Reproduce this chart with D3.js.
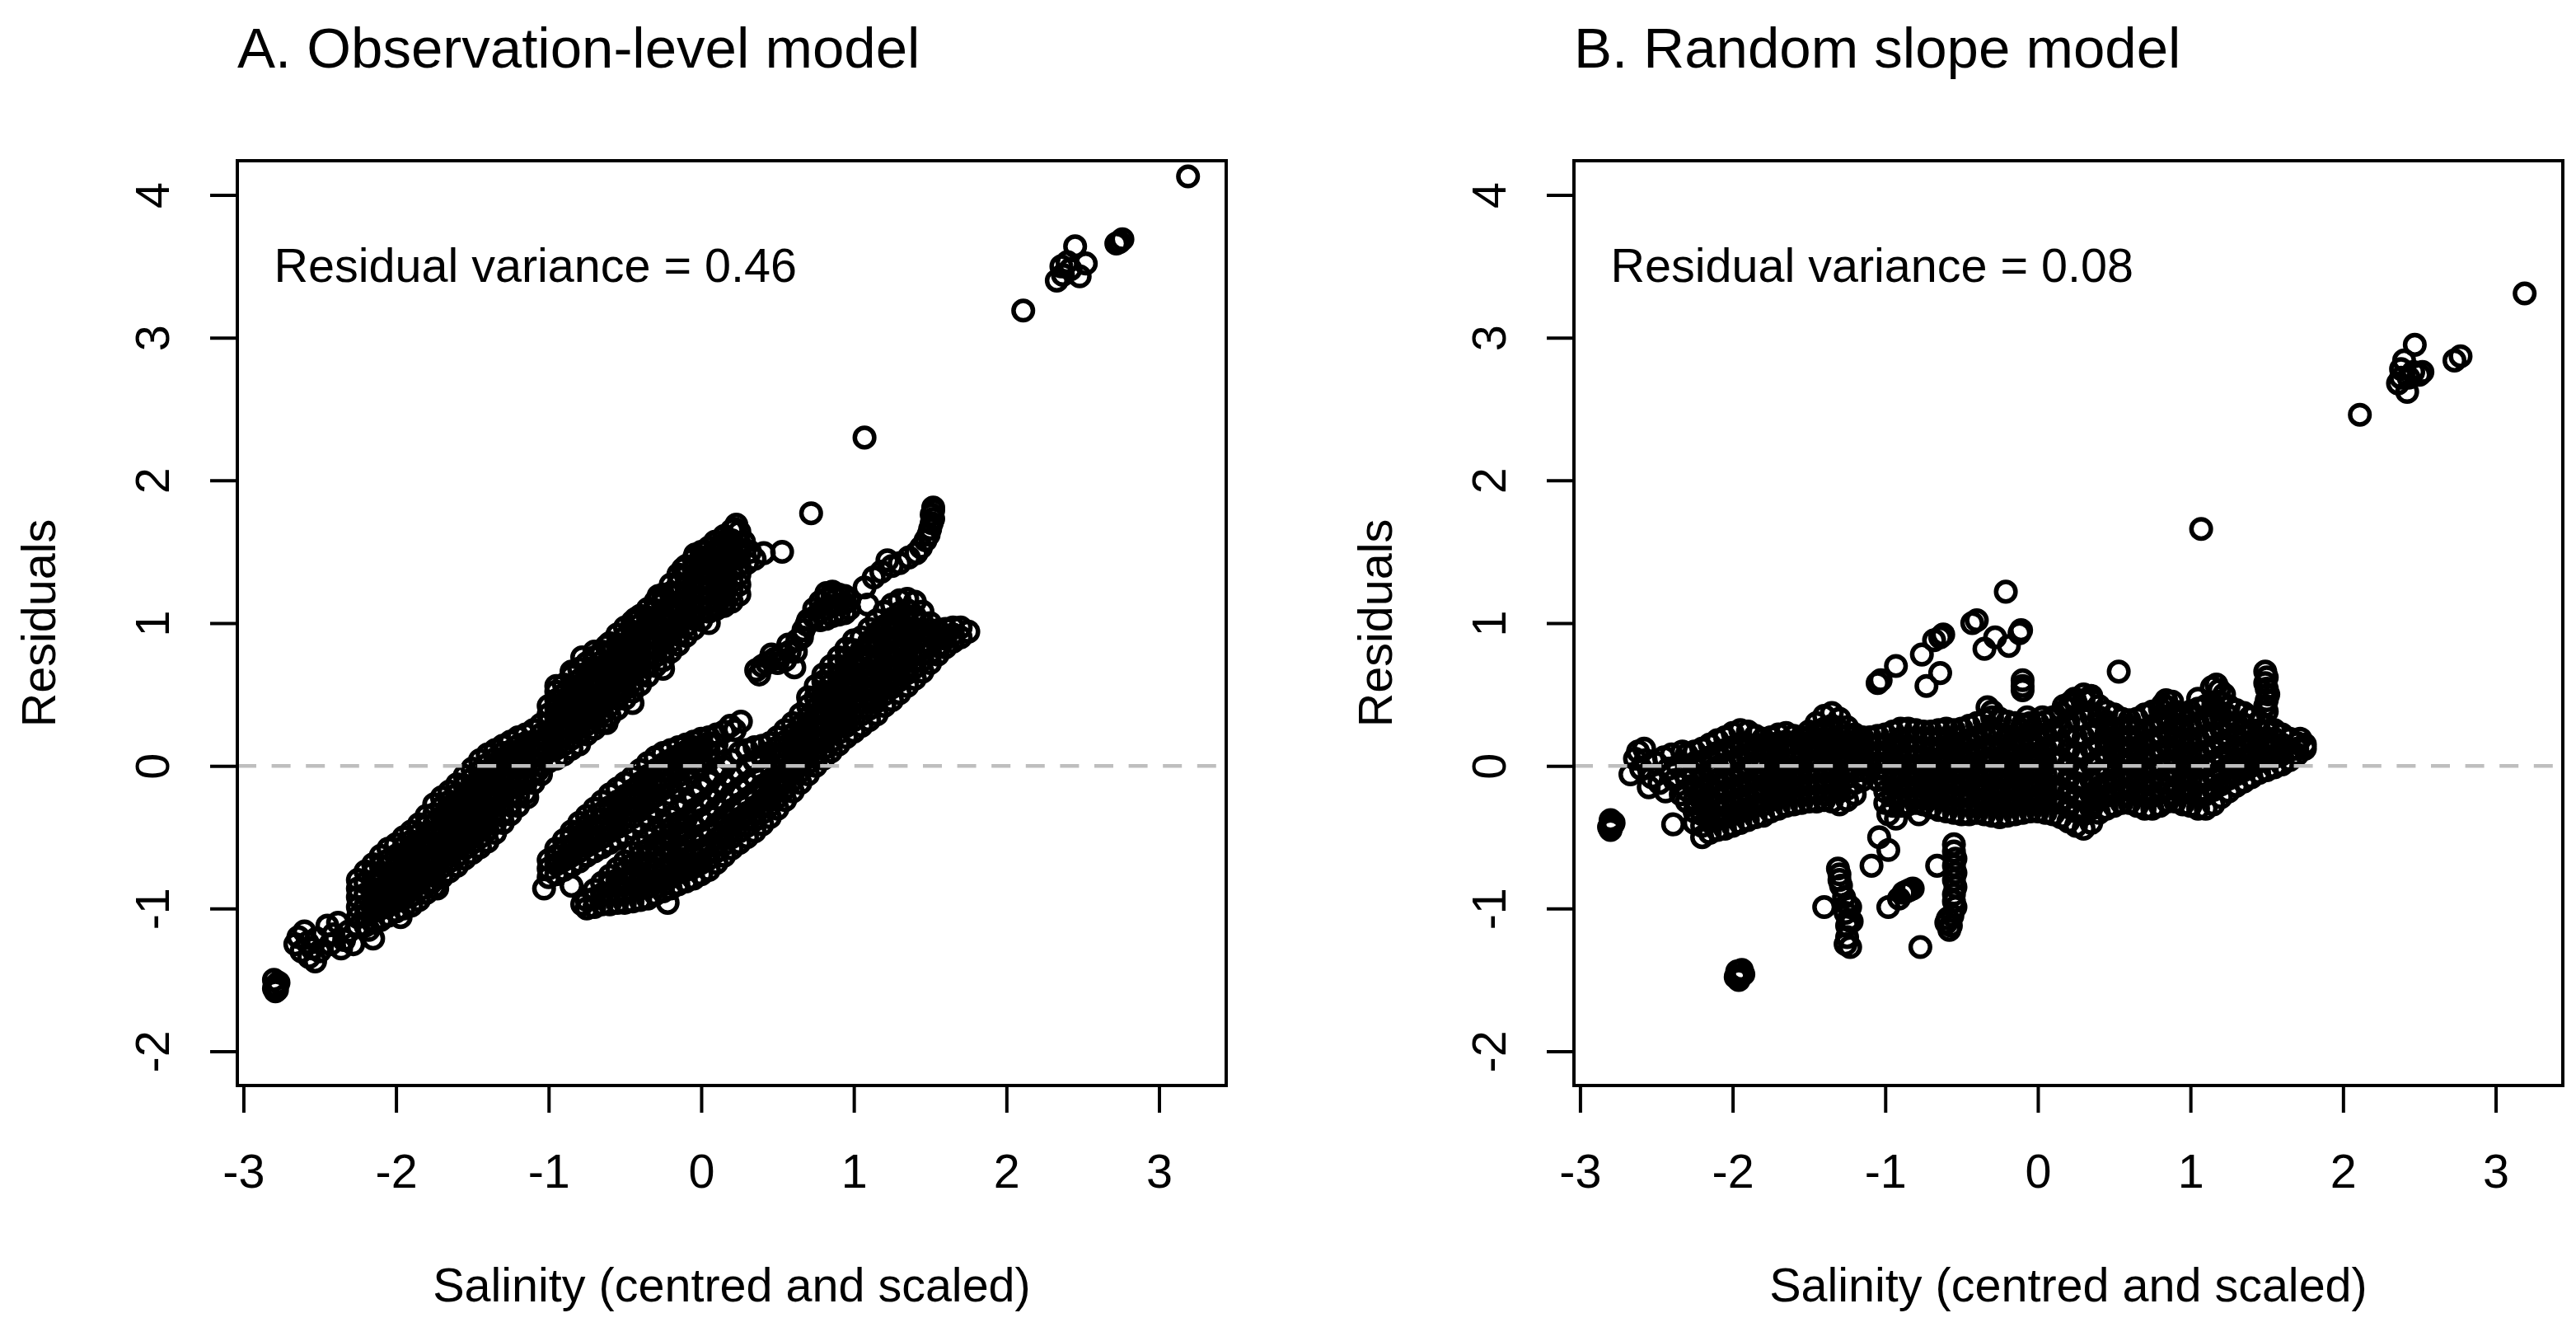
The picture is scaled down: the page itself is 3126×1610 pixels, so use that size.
<!DOCTYPE html>
<html>
<head>
<meta charset="utf-8">
<script src="https://cdn.jsdelivr.net/npm/d3@7"></script>
<style>
  body { margin: 0; background: #fff; }
  text { font-family: "Liberation Sans", Arial, sans-serif; fill: #000; }
</style>
</head>
<body>
<svg id="chart"></svg>
<script>
var W = 3126, H = 1610;

var xTicks = [-3, -2, -1, 0, 1, 2, 3];
var yTicks = [-2, -1, 0, 1, 2, 3, 4];
var xLim = [-2.8, 3.2];
var yLim = [-2, 4];

// dense parts are stored as columns: [x, y, y, y, ...]
// A. observation-level model, upper-left stripe
var obsBand1 = [
  [-2.25,-1.13,-1.06,-0.99,-0.92,-0.86,-0.80],
  [-2.20,-1.12,-1.05,-0.98,-0.90,-0.82,-0.74],
  [-2.15,-1.10,-1.02,-0.95,-0.88,-0.81,-0.75,-0.69],
  [-2.10,-1.08,-1.00,-0.93,-0.86,-0.78,-0.70,-0.63],
  [-2.05,-1.05,-0.98,-0.90,-0.83,-0.75,-0.66,-0.58],
  [-2.00,-1.02,-0.95,-0.88,-0.80,-0.72,-0.63,-0.55],
  [-1.95,-1.00,-0.93,-0.85,-0.78,-0.71,-0.64,-0.57,-0.50],
  [-1.90,-0.98,-0.91,-0.83,-0.76,-0.68,-0.61,-0.53,-0.46],
  [-1.85,-0.94,-0.87,-0.79,-0.72,-0.64,-0.56,-0.48,-0.41],
  [-1.80,-0.89,-0.82,-0.74,-0.66,-0.58,-0.50,-0.42,-0.35],
  [-1.75,-0.85,-0.77,-0.69,-0.62,-0.55,-0.48,-0.41,-0.34,-0.27],
  [-1.70,-0.78,-0.71,-0.64,-0.57,-0.50,-0.43,-0.36,-0.29,-0.22],
  [-1.65,-0.74,-0.67,-0.60,-0.53,-0.46,-0.39,-0.32,-0.25,-0.18],
  [-1.60,-0.70,-0.63,-0.56,-0.49,-0.41,-0.34,-0.27,-0.20,-0.13],
  [-1.55,-0.65,-0.58,-0.51,-0.44,-0.36,-0.29,-0.21,-0.14,-0.07],
  [-1.50,-0.61,-0.54,-0.46,-0.39,-0.32,-0.24,-0.17,-0.09,-0.02],
  [-1.45,-0.57,-0.50,-0.42,-0.35,-0.27,-0.19,-0.11,-0.04,0.04],
  [-1.40,-0.53,-0.45,-0.38,-0.30,-0.22,-0.14,-0.07,0.01,0.08],
  [-1.35,-0.47,-0.40,-0.32,-0.25,-0.17,-0.10,-0.02,0.05,0.11],
  [-1.30,-0.40,-0.33,-0.26,-0.18,-0.11,-0.04,0.03,0.09,0.14],
  [-1.25,-0.34,-0.27,-0.20,-0.12,-0.05,0.03,0.10,0.17],
  [-1.20,-0.28,-0.21,-0.14,-0.07,0.00,0.07,0.14,0.20],
  [-1.15,-0.19,-0.12,-0.05,0.02,0.09,0.16,0.22],
  [-1.10,-0.12,-0.05,0.03,0.10,0.17,0.25],
  [-1.05,-0.06,0.01,0.08,0.15,0.22,0.29],
  [-1.00,0.03,0.10,0.17,0.24,0.30,0.36,0.42],
  [-0.95,0.05,0.12,0.19,0.26,0.33,0.40,0.46,0.52],
  [-0.90,0.08,0.15,0.22,0.29,0.36,0.43,0.50,0.57],
  [-0.85,0.12,0.19,0.26,0.34,0.41,0.48,0.56,0.63],
  [-0.80,0.15,0.23,0.30,0.38,0.45,0.53,0.60,0.68],
  [-0.75,0.22,0.29,0.36,0.43,0.50,0.58,0.65,0.72],
  [-0.70,0.26,0.33,0.40,0.47,0.54,0.62,0.69,0.76],
  [-0.65,0.30,0.37,0.44,0.51,0.58,0.66,0.73,0.80],
  [-0.60,0.35,0.42,0.49,0.57,0.64,0.71,0.79,0.86],
  [-0.55,0.40,0.47,0.55,0.62,0.70,0.77,0.85,0.92],
  [-0.50,0.47,0.54,0.61,0.68,0.75,0.83,0.90,0.97],
  [-0.45,0.52,0.59,0.66,0.73,0.80,0.87,0.94,1.01],
  [-0.40,0.57,0.64,0.71,0.78,0.85,0.92,0.99,1.05],
  [-0.35,0.63,0.70,0.77,0.84,0.90,0.97,1.04,1.10],
  [-0.30,0.70,0.77,0.84,0.90,0.96,1.03,1.09,1.15],
  [-0.25,0.74,0.81,0.88,0.95,1.02,1.08,1.14,1.20],
  [-0.20,0.80,0.87,0.94,1.01,1.07,1.14,1.21,1.27],
  [-0.15,0.85,0.92,0.99,1.06,1.13,1.20,1.27,1.34],
  [-0.10,0.91,0.98,1.05,1.12,1.19,1.26,1.33,1.40],
  [-0.05,0.96,1.03,1.10,1.17,1.24,1.31,1.38,1.45],
  [0.00,1.02,1.09,1.16,1.23,1.30,1.37,1.44,1.50],
  [0.05,1.08,1.15,1.22,1.29,1.35,1.41,1.47,1.53],
  [0.10,1.10,1.17,1.24,1.31,1.38,1.44,1.51,1.57],
  [0.15,1.12,1.19,1.26,1.33,1.40,1.47,1.54,1.61],
  [0.20,1.15,1.22,1.29,1.37,1.44,1.51,1.58,1.65],
  [0.25,1.20,1.27,1.34,1.41,1.48,1.56,1.64]
];

// A. short middle stripe
var obsBand2 = [
  [-1.00,-0.78,-0.72,-0.66],
  [-0.95,-0.76,-0.69,-0.63,-0.58],
  [-0.90,-0.73,-0.66,-0.59,-0.52],
  [-0.85,-0.70,-0.63,-0.56,-0.50,-0.46],
  [-0.80,-0.67,-0.60,-0.53,-0.46,-0.40],
  [-0.75,-0.63,-0.56,-0.49,-0.42,-0.35],
  [-0.70,-0.60,-0.53,-0.45,-0.37,-0.30],
  [-0.65,-0.57,-0.50,-0.42,-0.33,-0.25],
  [-0.60,-0.54,-0.46,-0.38,-0.29,-0.20],
  [-0.55,-0.51,-0.43,-0.34,-0.25,-0.16],
  [-0.50,-0.48,-0.40,-0.31,-0.21,-0.12],
  [-0.45,-0.44,-0.36,-0.26,-0.17,-0.08],
  [-0.40,-0.40,-0.31,-0.22,-0.12,-0.03],
  [-0.35,-0.35,-0.26,-0.17,-0.07,0.02],
  [-0.30,-0.30,-0.21,-0.12,-0.03,0.06],
  [-0.25,-0.25,-0.16,-0.08,0.01,0.09],
  [-0.20,-0.20,-0.12,-0.04,0.04,0.11],
  [-0.15,-0.15,-0.07,0.00,0.07,0.13],
  [-0.10,-0.10,-0.03,0.04,0.10,0.15],
  [-0.05,-0.05,0.02,0.08,0.13,0.17],
  [0.00,0.00,0.06,0.12,0.19],
  [0.05,0.04,0.10,0.16,0.20],
  [0.10,0.09,0.15,0.22]
];

// A. large lower stripe
var obsBand3 = [
  [-0.75,-1.00,-0.94],
  [-0.70,-0.99,-0.93,-0.87],
  [-0.65,-0.97,-0.90,-0.82],
  [-0.60,-0.97,-0.90,-0.83,-0.77],
  [-0.55,-0.96,-0.88,-0.80,-0.72],
  [-0.50,-0.96,-0.88,-0.81,-0.74,-0.67],
  [-0.45,-0.95,-0.87,-0.78,-0.69,-0.61],
  [-0.40,-0.94,-0.86,-0.78,-0.70,-0.63,-0.56],
  [-0.35,-0.93,-0.85,-0.76,-0.68,-0.59,-0.51],
  [-0.30,-0.90,-0.82,-0.73,-0.64,-0.55,-0.46],
  [-0.25,-0.88,-0.80,-0.72,-0.64,-0.56,-0.48,-0.41],
  [-0.20,-0.86,-0.78,-0.70,-0.61,-0.52,-0.44,-0.36],
  [-0.15,-0.83,-0.75,-0.67,-0.58,-0.49,-0.40,-0.31],
  [-0.10,-0.81,-0.73,-0.65,-0.56,-0.47,-0.37,-0.26],
  [-0.05,-0.79,-0.71,-0.62,-0.52,-0.42,-0.31,-0.21],
  [0.00,-0.76,-0.68,-0.59,-0.49,-0.38,-0.27,-0.16],
  [0.05,-0.73,-0.65,-0.56,-0.46,-0.35,-0.23,-0.11],
  [0.10,-0.68,-0.60,-0.51,-0.41,-0.30,-0.18,-0.06],
  [0.15,-0.63,-0.55,-0.46,-0.36,-0.25,-0.13,-0.01],
  [0.20,-0.58,-0.50,-0.41,-0.31,-0.20,-0.08,0.04],
  [0.25,-0.54,-0.46,-0.37,-0.27,-0.16,-0.04,0.09],
  [0.30,-0.50,-0.42,-0.33,-0.23,-0.12,0.00,0.11],
  [0.35,-0.46,-0.38,-0.29,-0.19,-0.08,0.03,0.13],
  [0.40,-0.41,-0.33,-0.24,-0.14,-0.04,0.06,0.14],
  [0.45,-0.36,-0.28,-0.19,-0.10,0.00,0.09,0.16],
  [0.50,-0.30,-0.22,-0.13,-0.04,0.05,0.13,0.20],
  [0.55,-0.24,-0.16,-0.08,0.01,0.09,0.17,0.25],
  [0.60,-0.18,-0.10,-0.02,0.06,0.14,0.22,0.30],
  [0.65,-0.12,-0.04,0.04,0.12,0.20,0.28,0.36],
  [0.70,-0.06,0.02,0.10,0.18,0.26,0.34,0.42,0.48],
  [0.75,0.00,0.08,0.16,0.24,0.32,0.40,0.48,0.56],
  [0.80,0.05,0.12,0.20,0.28,0.36,0.44,0.52,0.59,0.64],
  [0.85,0.10,0.17,0.25,0.33,0.41,0.49,0.57,0.64,0.70],
  [0.90,0.15,0.23,0.31,0.39,0.47,0.55,0.63,0.70,0.76],
  [0.95,0.20,0.28,0.36,0.44,0.52,0.60,0.68,0.75,0.82],
  [1.00,0.24,0.32,0.40,0.48,0.57,0.65,0.73,0.81,0.88],
  [1.05,0.28,0.36,0.45,0.54,0.63,0.72,0.81,0.90],
  [1.10,0.32,0.40,0.49,0.58,0.67,0.77,0.87,0.96],
  [1.15,0.36,0.45,0.54,0.63,0.73,0.83,0.93,1.02],
  [1.20,0.42,0.50,0.59,0.68,0.78,0.88,0.98,1.08],
  [1.25,0.46,0.55,0.64,0.73,0.83,0.93,1.03,1.13],
  [1.30,0.51,0.60,0.69,0.78,0.88,0.98,1.07,1.16],
  [1.35,0.56,0.65,0.74,0.83,0.92,1.01,1.09,1.17],
  [1.40,0.61,0.69,0.78,0.87,0.96,1.05,1.15],
  [1.45,0.66,0.74,0.82,0.91,1.00,1.08],
  [1.50,0.72,0.79,0.86,0.93,1.00],
  [1.55,0.78,0.84,0.90,0.95],
  [1.60,0.83,0.89,0.96],
  [1.65,0.87,0.92,0.97],
  [1.70,0.90,0.97],
  [1.75,0.94]
];

// A. small dense blob on the upper short stripe
var obsBand4 = [
  [0.74,1.04,1.10],
  [0.78,1.02,1.08,1.15],
  [0.82,1.03,1.10,1.17,1.21],
  [0.86,1.05,1.12,1.19,1.22],
  [0.90,1.06,1.13,1.20],
  [0.94,1.07,1.14,1.19],
  [0.97,1.10,1.16]
];

// A. loose points and outliers
var obsPoints = [
  [-2.80,-1.50],[-2.79,-1.54],[-2.78,-1.57],[-2.80,-1.56],[-2.77,-1.52],[-2.79,-1.58],
  [-2.66,-1.25],[-2.64,-1.20],[-2.62,-1.30],[-2.60,-1.16],[-2.58,-1.24],[-2.57,-1.34],
  [-2.55,-1.28],[-2.53,-1.37],[-2.52,-1.21],[-2.50,-1.30],[-2.45,-1.12],[-2.43,-1.25],
  [-2.41,-1.18],[-2.38,-1.10],[-2.36,-1.28],[-2.34,-1.22],[-2.31,-1.16],[-2.28,-1.25],
  [-2.18,-1.15],[-2.15,-1.21],[-2.00,-1.02],[-1.97,-1.06],[-1.77,-0.82],[-1.73,-0.86],
  [-1.14,-0.22],[-1.07,-0.03],[-0.95,0.56],[-0.85,0.66],[-0.78,0.76],[-0.70,0.80],
  [-0.62,0.84],[-0.62,0.30],[-0.45,0.44],[-0.43,1.03],[-0.40,1.05],[-0.28,1.19],
  [-0.25,1.17],[-0.25,0.68],[-0.12,1.38],[-0.04,1.48],[0.03,1.50],[0.05,1.00],
  [0.09,1.57],[0.12,1.54],[0.15,1.15],[0.22,1.66],[0.23,1.69],[0.28,1.57],
  [0.30,1.42],[0.32,1.50],[0.35,1.45],[0.41,1.49],[0.53,1.50],
  [-1.03,-0.86],[-0.85,-0.84],[0.10,0.21],[0.15,0.24],[0.19,0.28],[0.22,0.25],[0.26,0.31],
  [-0.78,-0.97],[-0.22,-0.96],
  [0.36,0.67],[0.38,0.64],[0.40,0.70],[0.43,0.72],[0.46,0.78],[0.48,0.75],[0.50,0.72],
  [0.53,0.78],[0.55,0.74],[0.57,0.85],[0.58,0.80],[0.61,0.69],[0.62,0.80],[0.63,0.88],
  [0.66,0.90],[0.67,0.95],[0.69,0.99],[0.70,1.02],
  [1.07,1.25],[1.09,1.13],[1.13,1.32],[1.18,1.36],[1.22,1.44],[1.25,1.40],[1.30,1.42],
  [1.36,1.46],[1.41,1.49],[1.44,1.53],[1.47,1.58],[1.49,1.62],[1.50,1.66],[1.51,1.70],
  [1.52,1.73],[1.51,1.76],[1.52,1.79],[1.52,1.81],
  [0.72,1.77],[1.07,2.30],[2.11,3.19],[2.33,3.40],[2.36,3.50],[2.37,3.44],[2.40,3.53],
  [2.42,3.48],[2.45,3.64],[2.48,3.43],[2.52,3.52],[2.72,3.66],[2.74,3.67],[2.76,3.69],
  [3.19,4.13]
];

// B. random slope model, left part of the main band
var slopeBandLeft = [
  [-2.30,-0.25,-0.17,-0.09,-0.01,0.08],
  [-2.25,-0.40,-0.32,-0.24,-0.15,-0.06,0.02,0.10],
  [-2.20,-0.50,-0.42,-0.34,-0.25,-0.16,-0.07,0.03,0.12],
  [-2.15,-0.47,-0.39,-0.31,-0.22,-0.13,-0.04,0.06,0.15],
  [-2.10,-0.45,-0.37,-0.28,-0.19,-0.10,-0.01,0.09,0.18],
  [-2.05,-0.44,-0.36,-0.27,-0.18,-0.09,0.01,0.11,0.20],
  [-2.00,-0.42,-0.34,-0.25,-0.16,-0.07,0.03,0.13,0.23],
  [-1.95,-0.40,-0.32,-0.23,-0.14,-0.05,0.05,0.15,0.25],
  [-1.90,-0.38,-0.30,-0.21,-0.12,-0.03,0.06,0.15,0.24],
  [-1.85,-0.36,-0.28,-0.19,-0.10,-0.02,0.06,0.14,0.21],
  [-1.80,-0.35,-0.27,-0.18,-0.10,-0.02,0.05,0.12,0.19],
  [-1.75,-0.32,-0.24,-0.16,-0.08,0.00,0.07,0.14,0.20],
  [-1.70,-0.30,-0.22,-0.14,-0.06,0.02,0.09,0.16,0.22],
  [-1.65,-0.28,-0.20,-0.12,-0.04,0.04,0.11,0.17,0.23],
  [-1.60,-0.27,-0.19,-0.11,-0.03,0.04,0.10,0.16,0.21],
  [-1.55,-0.26,-0.18,-0.10,-0.02,0.05,0.11,0.16,0.20],
  [-1.50,-0.25,-0.17,-0.09,-0.01,0.07,0.14,0.20,0.24],
  [-1.45,-0.25,-0.17,-0.09,-0.01,0.07,0.15,0.23,0.30],
  [-1.40,-0.24,-0.16,-0.08,0.00,0.08,0.17,0.26,0.35],
  [-1.35,-0.25,-0.17,-0.08,0.01,0.10,0.19,0.28,0.37],
  [-1.30,-0.27,-0.18,-0.09,0.00,0.09,0.17,0.25,0.33],
  [-1.25,-0.24,-0.16,-0.08,0.00,0.08,0.15,0.21,0.27],
  [-1.20,-0.20,-0.12,-0.04,0.04,0.11,0.17,0.22],
  [-1.15,-0.10,-0.03,0.04,0.11,0.17,0.20]
];

// B. right part of the main band
var slopeBandRight = [
  [-1.10,0.00,0.07,0.14,0.20],
  [-1.05,-0.10,-0.02,0.06,0.14,0.21],
  [-1.00,-0.26,-0.18,-0.10,-0.02,0.06,0.14,0.22],
  [-0.95,-0.28,-0.20,-0.11,-0.03,0.06,0.15,0.24],
  [-0.90,-0.28,-0.20,-0.12,-0.04,0.04,0.11,0.19,0.26],
  [-0.85,-0.27,-0.19,-0.11,-0.03,0.05,0.12,0.19,0.26],
  [-0.80,-0.26,-0.18,-0.10,-0.02,0.06,0.13,0.19,0.25],
  [-0.75,-0.27,-0.19,-0.11,-0.03,0.05,0.12,0.18,0.24],
  [-0.70,-0.29,-0.21,-0.13,-0.05,0.03,0.10,0.17,0.24],
  [-0.65,-0.31,-0.23,-0.15,-0.07,0.01,0.09,0.17,0.25],
  [-0.60,-0.32,-0.24,-0.16,-0.08,0.00,0.08,0.17,0.26],
  [-0.55,-0.33,-0.25,-0.17,-0.09,-0.01,0.08,0.16,0.25],
  [-0.50,-0.34,-0.26,-0.18,-0.10,-0.02,0.07,0.16,0.26],
  [-0.45,-0.34,-0.26,-0.18,-0.09,0.00,0.09,0.18,0.28],
  [-0.40,-0.33,-0.25,-0.16,-0.07,0.02,0.11,0.20,0.30],
  [-0.35,-0.34,-0.25,-0.16,-0.07,0.03,0.13,0.22,0.32],
  [-0.30,-0.35,-0.26,-0.17,-0.07,0.03,0.13,0.23,0.34],
  [-0.25,-0.36,-0.27,-0.18,-0.08,0.02,0.12,0.22,0.33],
  [-0.20,-0.35,-0.26,-0.17,-0.08,0.02,0.11,0.21,0.31],
  [-0.15,-0.34,-0.25,-0.16,-0.07,0.02,0.11,0.20,0.30],
  [-0.10,-0.33,-0.24,-0.15,-0.06,0.03,0.12,0.20,0.29],
  [-0.05,-0.32,-0.23,-0.14,-0.05,0.04,0.13,0.21,0.30],
  [0.00,-0.32,-0.23,-0.14,-0.05,0.04,0.13,0.21,0.30],
  [0.05,-0.33,-0.24,-0.15,-0.06,0.03,0.12,0.22,0.31],
  [0.10,-0.34,-0.25,-0.15,-0.05,0.05,0.15,0.25,0.34],
  [0.15,-0.36,-0.26,-0.16,-0.06,0.05,0.16,0.27,0.37],
  [0.20,-0.39,-0.29,-0.19,-0.09,0.01,0.11,0.21,0.31,0.40],
  [0.25,-0.42,-0.32,-0.22,-0.12,-0.02,0.09,0.20,0.32,0.44],
  [0.30,-0.44,-0.34,-0.24,-0.14,-0.03,0.08,0.20,0.33,0.46],
  [0.35,-0.40,-0.30,-0.20,-0.10,0.01,0.12,0.23,0.35,0.46],
  [0.40,-0.33,-0.24,-0.15,-0.05,0.05,0.15,0.25,0.34,0.42],
  [0.45,-0.30,-0.21,-0.12,-0.03,0.06,0.15,0.23,0.31,0.38],
  [0.50,-0.28,-0.19,-0.10,-0.01,0.08,0.17,0.26,0.36],
  [0.55,-0.26,-0.17,-0.08,0.01,0.09,0.17,0.25,0.33],
  [0.60,-0.26,-0.17,-0.08,0.01,0.09,0.17,0.25,0.32],
  [0.65,-0.28,-0.19,-0.10,-0.01,0.08,0.17,0.25,0.33],
  [0.70,-0.30,-0.21,-0.12,-0.03,0.06,0.15,0.25,0.36],
  [0.75,-0.30,-0.21,-0.11,-0.02,0.08,0.18,0.28,0.38],
  [0.80,-0.28,-0.19,-0.10,0.00,0.10,0.20,0.30,0.40],
  [0.85,-0.25,-0.16,-0.07,0.03,0.13,0.23,0.32,0.41],
  [0.90,-0.25,-0.16,-0.07,0.02,0.11,0.20,0.29,0.38],
  [0.95,-0.27,-0.18,-0.09,0.00,0.09,0.18,0.27,0.36],
  [1.00,-0.28,-0.19,-0.10,-0.01,0.09,0.19,0.28,0.38],
  [1.05,-0.30,-0.21,-0.11,-0.01,0.09,0.19,0.30,0.40],
  [1.10,-0.30,-0.20,-0.10,0.00,0.10,0.21,0.32,0.42],
  [1.15,-0.27,-0.17,-0.07,0.03,0.13,0.23,0.33,0.43],
  [1.20,-0.22,-0.13,-0.04,0.06,0.16,0.26,0.35,0.44],
  [1.25,-0.18,-0.09,0.00,0.09,0.18,0.27,0.35,0.42],
  [1.30,-0.14,-0.06,0.03,0.12,0.21,0.30,0.39],
  [1.35,-0.11,-0.03,0.05,0.13,0.21,0.29,0.37],
  [1.40,-0.08,0.00,0.08,0.16,0.24,0.34],
  [1.45,-0.05,0.03,0.11,0.19,0.25,0.31],
  [1.50,-0.03,0.05,0.12,0.19,0.24,0.28],
  [1.55,-0.01,0.06,0.13,0.19,0.25],
  [1.60,0.01,0.08,0.15,0.22],
  [1.65,0.04,0.11,0.19],
  [1.70,0.08,0.12,0.16],
  [1.75,0.12,0.15]
];

// B. loose points and outliers
var slopePoints = [
  [-2.80,-0.38],[-2.79,-0.42],[-2.80,-0.45],[-2.78,-0.40],[-2.81,-0.43],[-2.39,-0.41],
  [-2.67,-0.06],[-2.64,0.05],[-2.62,0.10],[-2.60,-0.02],[-2.58,0.12],[-2.57,0.04],
  [-2.55,-0.15],[-2.53,-0.08],[-2.50,0.02],[-2.48,-0.12],[-2.45,0.06],[-2.44,-0.18],
  [-2.42,-0.02],[-2.40,0.08],[-2.38,-0.10],[-2.36,0.00],[-2.34,-0.20],[-2.33,0.10],[-2.31,-0.06],
  [-1.97,-1.44],[-1.95,-1.47],[-1.93,-1.46],[-1.98,-1.48],[-1.96,-1.50],[-1.94,-1.43],
  [-1.31,-0.72],[-1.30,-0.76],[-1.30,-0.80],[-1.29,-0.84],[-1.27,-0.92],[-1.25,-0.97],
  [-1.26,-1.03],[-1.24,-1.08],[-1.25,-1.12],[-1.25,-1.20],[-1.26,-1.25],[-1.23,-1.27],
  [-1.40,-0.99],[-1.23,-0.99],[-1.22,-1.09],
  [-1.09,-0.70],[-1.04,-0.50],[-0.98,-0.59],[-0.98,-0.99],[-0.91,-0.93],[-0.88,-0.89],
  [-0.86,-0.88],[-0.84,-0.87],[-0.82,-0.86],[-0.98,-0.34],[-0.93,-0.37],[-0.78,-0.34],
  [-0.77,-1.27],[-0.66,-0.70],[-0.60,-1.10],[-0.59,-1.07],
  [-0.55,-0.55],[-0.55,-0.60],[-0.54,-0.65],[-0.55,-0.70],[-0.54,-0.75],[-0.55,-0.80],
  [-0.54,-0.85],[-0.55,-0.90],[-0.55,-0.95],[-0.54,-0.99],[-0.56,-1.05],[-0.57,-1.12],[-0.58,-1.15],
  [-1.05,0.58],[-1.03,0.60],[-0.93,0.70],[-0.76,0.78],[-0.68,0.88],[-0.64,0.90],
  [-0.62,0.92],[-0.64,0.65],[-0.73,0.56],[-0.43,1.00],[-0.40,1.02],[-0.21,1.22],
  [-0.35,0.82],[-0.28,0.90],[-0.19,0.84],[-0.12,0.93],[-0.11,0.95],[-0.10,0.60],
  [-0.10,0.56],[-0.10,0.53],[0.53,0.66],
  [-0.30,0.38],[-0.33,0.41],[-0.07,0.34],[0.03,0.34],[0.17,0.42],[0.21,0.44],[0.24,0.47],
  [0.30,0.50],[0.35,0.49],[0.82,0.43],[0.84,0.46],[0.88,0.45],[1.05,0.47],[1.14,0.55],
  [1.17,0.57],[1.19,0.53],[1.19,0.45],[1.22,0.50],
  [1.49,0.66],[1.50,0.62],[1.49,0.58],[1.50,0.54],[1.51,0.50],[1.50,0.46],[1.49,0.42],[1.50,0.38],
  [1.39,0.34],[1.72,0.19],
  [1.07,1.66],[2.11,2.46],[2.36,2.68],[2.38,2.78],[2.40,2.84],[2.42,2.62],[2.43,2.72],
  [2.46,2.76],[2.47,2.95],[2.50,2.74],[2.52,2.76],[2.38,2.72],[2.73,2.84],[2.77,2.87],
  [3.19,3.31]
];

var panels = [
  {left: 288, title: "A. Observation-level model", note: "Residual variance = 0.46",
   bands: [obsBand1, obsBand2, obsBand3, obsBand4], points: obsPoints},
  {left: 1910, title: "B. Random slope model", note: "Residual variance = 0.08",
   bands: [slopeBandLeft, slopeBandRight], points: slopePoints}
];

var boxW = 1200, boxTop = 195, boxBottom = 1317;
var lineH = 69;          // one margin line
var fs = 57.5;           // base font size

// R pads the axis limits by 4% on each side
function padded(lim) {
  var r = (lim[1] - lim[0]) * 0.04;
  return [lim[0] - r, lim[1] + r];
}

var svg = d3.select("#chart").attr("width", W).attr("height", H);
svg.append("rect").attr("width", W).attr("height", H).attr("fill", "#fff");

panels.forEach(function(p) {
  var x = d3.scaleLinear().domain(padded(xLim)).range([p.left, p.left + boxW]);
  var y = d3.scaleLinear().domain(padded(yLim)).range([boxBottom, boxTop]);
  var g = svg.append("g");

  var pts = [];
  p.bands.forEach(function(cols) {
    cols.forEach(function(c) {
      c.slice(1).forEach(function(v) { pts.push([c[0], v]); });
    });
  });
  pts = pts.concat(p.points);

  g.append("g").selectAll("circle")
    .data(pts)
    .join("circle")
    .attr("cx", function(d) { return x(d[0]); })
    .attr("cy", function(d) { return y(d[1]); })
    .attr("r", 11.8)
    .attr("fill", "none")
    .attr("stroke", "#000")
    .attr("stroke-width", 5.5);

  // zero line
  g.append("line")
    .attr("x1", p.left).attr("x2", p.left + boxW)
    .attr("y1", y(0)).attr("y2", y(0))
    .attr("stroke", "#bebebe")
    .attr("stroke-width", 4.5)
    .attr("stroke-dasharray", "23,18.6");

  g.append("rect")
    .attr("x", p.left).attr("y", boxTop)
    .attr("width", boxW).attr("height", boxBottom - boxTop)
    .attr("fill", "none").attr("stroke", "#000").attr("stroke-width", 4);

  var xAxis = d3.axisBottom(x).tickValues(xTicks).tickSize(33).tickSizeOuter(0)
    .tickFormat(function(d) { return String(d); });
  var gx = g.append("g").attr("transform", "translate(0," + boxBottom + ")").call(xAxis);
  gx.select(".domain").remove();
  gx.selectAll(".tick line").attr("stroke", "#000").attr("stroke-width", 4);
  gx.selectAll(".tick text")
    .attr("y", 1.8 * lineH).attr("dy", null)
    .attr("font-size", fs).attr("fill", "#000");

  var yAxis = d3.axisLeft(y).tickValues(yTicks).tickSize(33).tickSizeOuter(0)
    .tickFormat(function(d) { return String(d); });
  var gy = g.append("g").attr("transform", "translate(" + p.left + ",0)").call(yAxis);
  gy.select(".domain").remove();
  gy.selectAll(".tick line").attr("stroke", "#000").attr("stroke-width", 4);
  gy.selectAll(".tick text")
    .attr("transform", "rotate(-90)")
    .attr("x", 0).attr("y", -1.2 * lineH).attr("dy", null)
    .attr("text-anchor", "middle")
    .attr("font-size", fs).attr("fill", "#000");

  g.append("text")
    .attr("x", p.left + boxW / 2)
    .attr("y", boxBottom + 3.8 * lineH)
    .attr("text-anchor", "middle")
    .attr("font-size", fs)
    .text("Salinity (centred and scaled)");

  g.append("text")
    .attr("transform", "translate(" + (p.left - 3.2 * lineH) + "," + ((boxTop + boxBottom) / 2) + ") rotate(-90)")
    .attr("text-anchor", "middle")
    .attr("font-size", fs)
    .text("Residuals");

  g.append("text")
    .attr("x", p.left)
    .attr("y", 82)
    .attr("font-size", 69)
    .text(p.title);

  g.append("text")
    .attr("x", x(-2.8))
    .attr("y", y(3.5) + 19)
    .attr("font-size", fs)
    .text(p.note);
});
</script>
</body>
</html>
